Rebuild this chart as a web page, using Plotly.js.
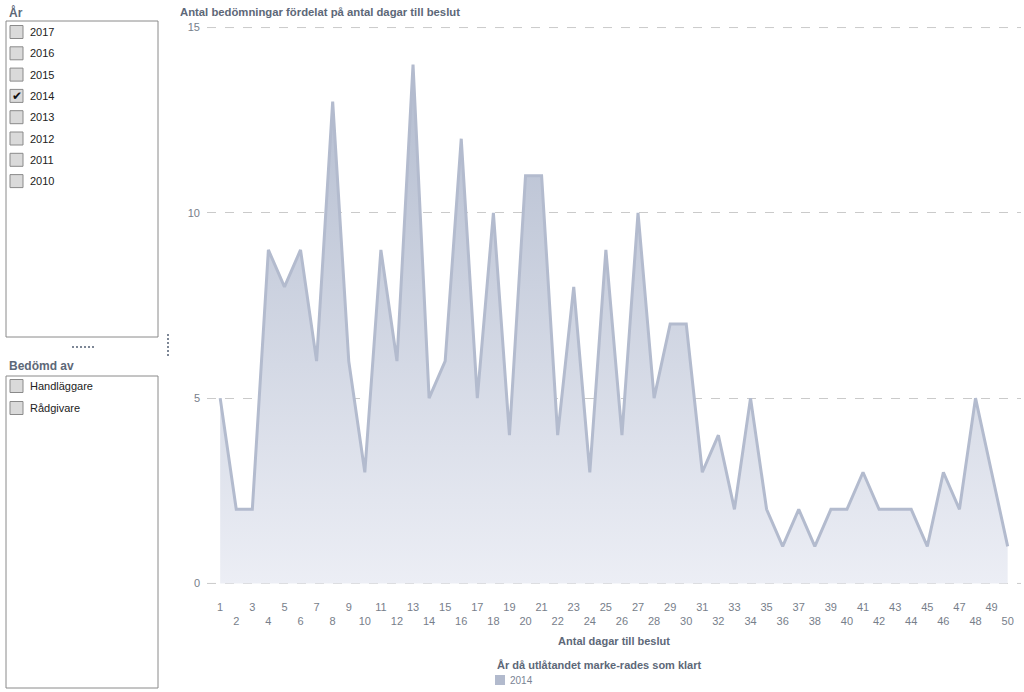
<!DOCTYPE html>
<html>
<head>
<meta charset="utf-8">
<script src="https://cdn.plot.ly/plotly-3.0.1.min.js"></script>
<style>
html,body{margin:0;padding:0;background:#fff;}
#chart{width:1024px;height:692px;}
</style>
</head>
<body>
<div id="chart"></div>
<script>
// ---- data ----
const days = [1,2,3,4,5,6,7,8,9,10,11,12,13,14,15,16,17,18,19,20,21,22,23,24,25,26,27,28,29,30,31,32,33,34,35,36,37,38,39,40,41,42,43,44,45,46,47,48,49,50];
const counts2014 = [5,2,2,9,8,9,6,13,6,3,9,6,14,5,6,12,5,10,4,11,11,4,8,3,9,4,10,5,7,7,3,4,2,5,2,1,2,1,2,2,3,2,2,2,1,3,2,5,3,1];
const yTicks = [0,5,10,15];
const years = ["2017","2016","2015","2014","2013","2012","2011","2010"];
const selectedYear = "2014";
const assessors = ["Handläggare","Rådgivare"];
const chartTitle = "Antal bedömningar fördelat på antal dagar till beslut";
const xTitle = "Antal dagar till beslut";
const legendTitle = "År då utlåtandet marke-rades som klart";

// ---- layout geometry (pixels) ----
const L = 207, R = 3, T = 27, Bm = 108;
const W = 1024 - L - R, H = 692 - T - Bm, B = 692 - Bm;
const px = x => (x - L) / W;
const py = y => (B - y) / H;

const textGrey = "#5d6878";
const dotGrey = "#7d8796";
const gridColor = "#cacaca";
const shapes = [], annotations = [];

function box(x0,y0,x1,y1,opts){
  shapes.push(Object.assign({type:'rect',xref:'paper',yref:'paper',x0:px(x0),x1:px(x1),y0:py(y1),y1:py(y0),
    line:{color:'#8a8a8a',width:1},fillcolor:'rgba(0,0,0,0)',layer:'above'},opts||{}));
}
function label(x,y,text,opts){
  annotations.push(Object.assign({xref:'paper',yref:'paper',x:px(x),y:py(y),text:text,showarrow:false,
    xanchor:'left',yanchor:'middle',font:{family:'Liberation Sans, Arial, sans-serif',size:11,color:'#222'}},opts||{}));
}

// gridlines at the range ends (Plotly skips grid lines on the plot edges)
[yTicks[0], yTicks[yTicks.length-1]].forEach(v=>{
  shapes.push({type:'line',xref:'paper',yref:'y',x0:0,x1:1,y0:v,y1:v,layer:'below',
    line:{color:gridColor,width:1,dash:'dash'}});
});

// Year slicer
label(7,12,"<b>År</b>",{font:{family:'Liberation Sans, Arial, sans-serif',size:12,color:textGrey}});
box(6,21,158,337);
years.forEach((yr,i)=>{
  const cy = 32 + i*21.3;
  box(10,cy-6.5,23,cy+6.5,{fillcolor:'#dadada',line:{color:'#8a8a8a',width:1}});
  label(28,cy,yr);
  if(yr===selectedYear){
    label(16.5,cy,"✔",{xanchor:'center',font:{family:'DejaVu Sans, sans-serif',size:12,color:'#111'}});
  }
});
// separators (resize handles)
for(let i=0;i<6;i++){
  const hx = 72 + i*4;
  box(hx,346,hx+2,348,{fillcolor:dotGrey,line:{width:0}});
  const vy = 334 + i*4;
  box(167,vy,169,vy+2,{fillcolor:dotGrey,line:{width:0}});
}

// Assessor slicer
label(7,366,"<b>Bedömd av</b>",{font:{family:'Liberation Sans, Arial, sans-serif',size:12,color:textGrey}});
box(6,376,158,688);
assessors.forEach((a,i)=>{
  const cy = 386 + i*22;
  box(10,cy-6.5,23,cy+6.5,{fillcolor:'#dadada'});
  label(28,cy,a);
});

// Legend (manual)
label(495,665,"<b>"+legendTitle+"</b>",{font:{family:'Liberation Sans, Arial, sans-serif',size:11,color:textGrey}});
box(495,675,505,685,{fillcolor:'#b2bacd',line:{width:0}});
label(508,680,selectedYear,{font:{family:'Liberation Sans, Arial, sans-serif',size:10,color:'#7a8494'}});

// x tick labels: odd on first row, even on second row
const tickText = days.map(d => (d % 2 === 1) ? String(d) : "<br>" + d);

const trace = {
  type:'scatter', mode:'lines', x:days, y:counts2014,
  line:{color:'#b3bbce',width:3},
  fill:'tozeroy',
  fillgradient:{type:'vertical',start:0,stop:14,
    colorscale:[[0,'#eceef5'],[1,'#b3bccf']]},
  hoverinfo:'x+y', showlegend:false, cliponaxis:false
};

const layout = {
  width:1024, height:692,
  margin:{l:L,r:R,t:T,b:Bm},
  paper_bgcolor:'#fff', plot_bgcolor:'#fff',
  title:{text:"<b>"+chartTitle+"</b>",x:180/1024,xanchor:'left',y:1-12/692,yanchor:'middle',
    font:{family:'Liberation Sans, Arial, sans-serif',size:11.3,color:textGrey}},
  xaxis:{range:[0.18,50.83],tickmode:'array',tickvals:days,ticktext:tickText,
    showgrid:false,zeroline:false,showline:false,ticks:'',ticklabelstandoff:15,
    tickfont:{family:'Liberation Sans, Arial, sans-serif',size:11,color:'#777e8a'},
    title:{text:"<b>"+xTitle+"</b>",standoff:11,font:{family:'Liberation Sans, Arial, sans-serif',size:11,color:textGrey}},
    fixedrange:true},
  yaxis:{range:[-0.015,15.015],tickmode:'array',tickvals:yTicks,
    showgrid:true,gridcolor:gridColor,griddash:'dash',gridwidth:1,zeroline:false,showline:false,ticks:'',
    ticklabelstandoff:6,
    tickfont:{family:'Liberation Sans, Arial, sans-serif',size:11,color:'#777e8a'},fixedrange:true},
  shapes:shapes, annotations:annotations,
  showlegend:false
};

Plotly.newPlot('chart',[trace],layout,{displayModeBar:false,staticPlot:true});
</script>
</body>
</html>
